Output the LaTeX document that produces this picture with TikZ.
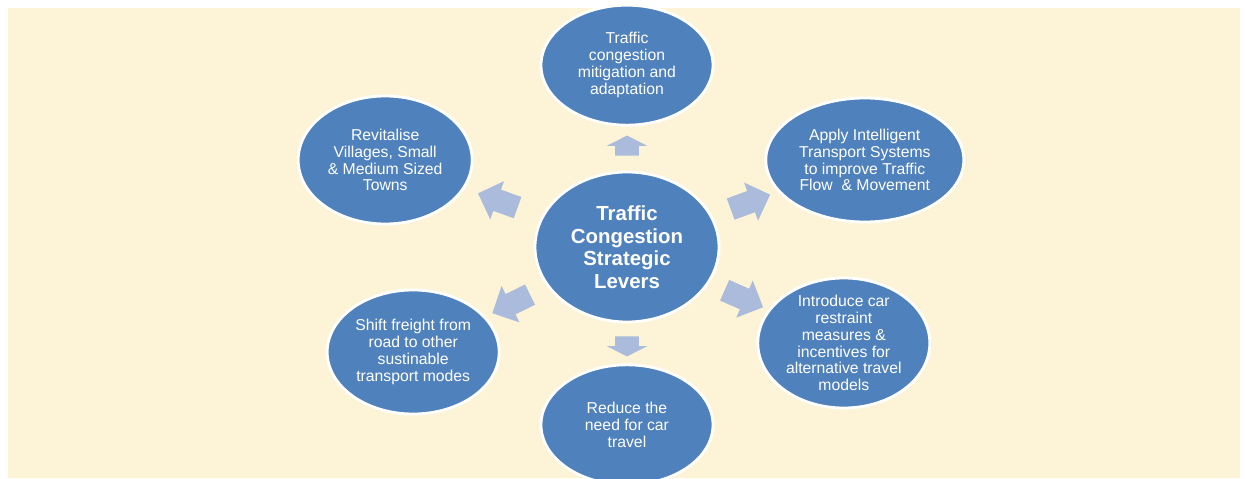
\documentclass[tikz,border=0pt]{standalone}
\usepackage{fontspec}
\setmainfont{Liberation Sans}
\usepackage{tikz}
\usetikzlibrary{positioning,shapes.geometric,shapes.arrows}
\definecolor{Cream}{HTML}{FDF3D7}
\definecolor{LeverBlue}{HTML}{4F81BD}
\definecolor{PushBlue}{HTML}{AABBDB}
\tikzset{hub/.style={ellipse,draw=white,line width=2pt,fill=LeverBlue,text=white,align=center,inner sep=0pt,minimum width=4.6cm,minimum height=3.75cm,font=\fontsize{14.5}{16}\selectfont\bfseries},lever/.style={ellipse,draw=white,line width=2pt,fill=LeverBlue,text=white,align=center,inner sep=0pt,minimum width=4.3cm,minimum height=3.1cm,font=\fontsize{11.2}{12}\selectfont},push/.style={single arrow,fill=PushBlue,inner xsep=0pt,inner ysep=.275cm,minimum height=1.05cm,minimum width=0pt,single arrow head extend=.225cm,sloped,allow upside down},nudge/.style={push,inner ysep=.29cm,single arrow head extend=.21cm,minimum height=.5cm,single arrow tip angle=126}}

\begin{document}
\begin{tikzpicture}
      \useasboundingbox[fill=white](-15.675,-5.775) rectangle (15.475,6.175);
      \fill[Cream](-15.475,-5.775) rectangle (15.325,5.975);
      \node[hub](core){Traffic\\Congestion\\Strategic\\Levers};
      \node[lever,minimum height=3cm,above=1.1cm of core](mitigate){Traffic\\congestion\\mitigation and\\adaptation};
      \node[lever,minimum height=3cm,below=1cm of core](reduce){Reduce the\\need for car\\travel};
      \node[lever,minimum width=4.35cm,minimum height=3.2cm,left=1.5cm of core,yshift=2.175cm](revitalise){Revitalise\\Villages, Small\\\& Medium Sized\\Towns};
      \node[lever,minimum width=4.95cm,right=1.1cm of core,yshift=2.175cm](its){Apply Intelligent\\Transport Systems\\to improve Traffic\\Flow\ \ \& Movement};
      \node[lever,left=.825cm of core,yshift=-2.625cm](freight){Shift freight from\\road to other\\sustinable\\transport modes};
      \node[lever,minimum height=3.25cm,inner ysep=-6pt,right=.9cm of core,yshift=-2.4cm](restrain){Introduce car\\restraint\\measures \&\\incentives for\\alternative travel\\models};
      \path(core)--(mitigate)node[midway,nudge]{};\path(core)--(reduce)node[midway,nudge]{};
      \path(core)--(revitalise)node[midway,push]{};\path(core)--(its)node[midway,push]{};
      \path(core)--(freight)node[midway,push]{};\path(core)--(restrain)node[midway,push]{};
    \end{tikzpicture}
\end{document}
